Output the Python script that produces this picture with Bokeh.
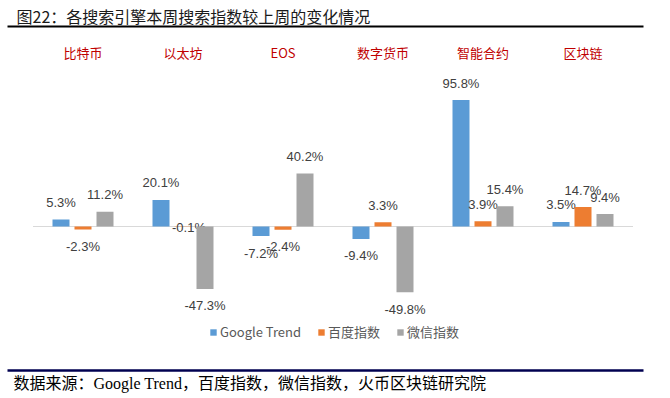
from bokeh.plotting import figure
from bokeh.models import Range1d, ColumnDataSource, Legend, LegendItem
from bokeh.core.properties import value
from bokeh.embed import file_html
from bokeh.resources import INLINE

# ---- data ----
categories = ["比特币", "以太坊", "EOS", "数字货币", "智能合约", "区块链"]
series_names = ["Google Trend", "百度指数", "微信指数"]
google_trend = [5.3, 20.1, -7.2, -9.4, 95.8, 3.5]
baidu_index = [-2.3, -0.1, -2.4, 3.3, 3.9, 14.7]
wechat_index = [11.2, -47.3, 40.2, -49.8, 15.4, 9.4]
title_text = "图22：各搜索引擎本周搜索指数较上周的变化情况"
source_text = "数据来源：Google Trend，百度指数，微信指数，火币区块链研究院"

# ---- layout (page has no margin: figure pixels == image pixels) ----
W, H = 670, 398
PXX = 100.0                      # px per category
X0 = -32.5 / PXX
X1 = X0 + W / PXX
PXY = 1.32                       # px per percentage point
ZERO_IMG = 226                   # image y of the zero line
Y1 = ZERO_IMG / PXY
Y0 = Y1 - H / PXY


def fx(ix):
    return X0 + ix / PXX


def fy(iy):
    return Y1 - iy / PXY


colors = ["#5B9BD5", "#ED7D31", "#A5A5A5"]
offsets = [-0.22, 0.0, 0.22]
bar_w = 0.17
# manual label nudges (series index, category index) -> (dx px, y offset px)
label_nudge = {(1, 1): (6, 1)}

p = figure(width=W, height=H, output_backend="svg", toolbar_location=None,
           x_range=Range1d(X0, X1), y_range=Range1d(Y0, Y1),
           x_axis_location=None, y_axis_location=None, min_border=0,
           title=None)
p.grid.visible = False
p.outline_line_color = None
p.background_fill_color = "white"
p.border_fill_color = "white"

# zero line
n = len(categories)
p.segment(x0=[0], x1=[n], y0=[0], y1=[0], line_color="#D9D9D9", line_width=1)

renderers = []
all_series = [google_trend, baidu_index, wechat_index]
label_font = value("Liberation Sans")
for s, (vals, col, off) in enumerate(zip(all_series, colors, offsets)):
    xs = [i + 0.5 + off for i in range(n)]
    xoff, yoff = [], []
    for i, v in enumerate(vals):
        dx, dy = label_nudge.get((s, i), (0, -17 if v >= 0 else 17))
        xoff.append(dx)
        yoff.append(dy)
    src = ColumnDataSource(dict(
        x=xs, top=vals,
        label=[f"{v:.1f}%" for v in vals],
        xoff=xoff, yoff=yoff,
    ))
    r = p.vbar(x="x", top="top", bottom=0, width=bar_w, source=src,
               fill_color=col, line_color=None)
    renderers.append(r)
    p.text(x="x", y="top", text="label", x_offset="xoff", y_offset="yoff",
           source=src, text_align="center", text_baseline="middle",
           text_font=label_font, text_font_size="13px", text_color="#404040")

# category labels (red)
cat_src = ColumnDataSource(dict(x=[i + 0.5 for i in range(n)],
                                y=[fy(52)] * n, t=categories))
p.text(x="x", y="y", text="t", source=cat_src, text_align="center",
       text_baseline="middle", text_font=value("Noto Sans CJK SC"),
       text_font_size="13px", text_color="#C00000")

# title and rules
p.text(x=[fx(16)], y=[fy(15)], text=[title_text], text_align="left",
       text_baseline="middle", text_font=value("Noto Sans CJK SC"),
       text_font_size="16px", text_color="#1a1a1a")
p.segment(x0=[fx(7)], x1=[fx(643)], y0=[fy(26)], y1=[fy(26)],
          line_color="black", line_width=2)
p.segment(x0=[fx(7)], x1=[fx(643)], y0=[fy(370)], y1=[fy(370)],
          line_color="#000050", line_width=2.5)
p.text(x=[fx(13)], y=[fy(383)], text=[source_text], text_align="left",
       text_baseline="middle",
       text_font=value("Liberation Serif, Noto Sans CJK SC"),
       text_font_size="16px", text_color="#000000")

legend = Legend(items=[LegendItem(label=nm, renderers=[r])
                       for nm, r in zip(series_names, renderers)],
                orientation="horizontal", location=(209, 57),
                glyph_width=8, glyph_height=8, label_standoff=3, spacing=16,
                label_height=14, padding=0, margin=0,
                label_text_font="Noto Sans CJK SC",
                label_text_font_size="13px", label_text_color="#595959",
                background_fill_alpha=0, border_line_alpha=0)
p.add_layout(legend)

open("out.html", "w").write(file_html(p, INLINE))
